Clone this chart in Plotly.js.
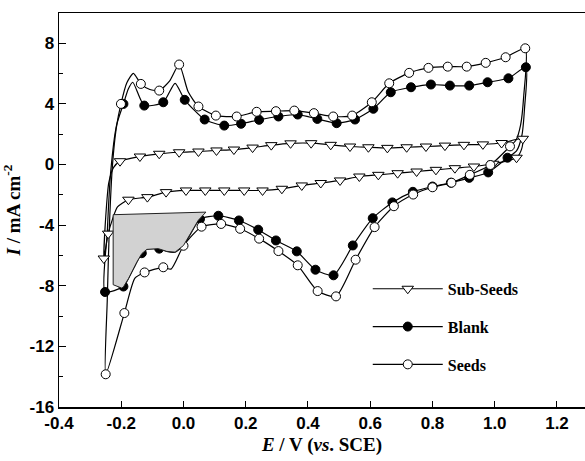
<!DOCTYPE html>
<html><head><meta charset="utf-8">
<script src="https://cdn.plot.ly/plotly-3.0.1.min.js"></script>
<style>html,body{margin:0;padding:0;background:#fff}#chart{width:585px;height:461px}</style>
</head><body><div id="chart"></div>
<script>
// ---- data (E / V vs SCE, I / mA cm^-2, marker flag) ----
const seedsE = [-0.250,-0.245,-0.238,-0.228,-0.216,-0.201,-0.182,-0.161,-0.137,-0.108,-0.078,-0.045,-0.014,0.015,0.048,0.104,0.171,0.235,0.297,0.356,0.419,0.481,0.542,0.605,0.661,0.725,0.787,0.849,0.910,0.971,1.035,1.098,1.093,1.083,1.068,1.049,0.986,0.920,0.861,0.800,0.738,0.676,0.614,0.553,0.490,0.431,0.367,0.305,0.243,0.182,0.121,0.058,0.000,-0.040,-0.065,-0.125,-0.156,-0.190,-0.250];
const seedsI = [-13.84,-9.0,-4.0,0.0,2.4,4.0,5.4,6.02,5.32,4.95,4.88,5.5,6.6,4.8,3.83,3.23,3.17,3.48,3.52,3.56,3.39,3.17,3.23,4.11,5.36,6.05,6.38,6.46,6.46,6.71,7.08,7.67,4.5,2.6,1.6,1.2,-0.03,-0.68,-1.2,-1.5,-1.98,-2.75,-4.13,-6.28,-8.7,-8.35,-6.65,-5.71,-4.89,-4.24,-3.92,-4.1,-5.36,-6.9,-6.78,-7.12,-7.5,-9.8,-13.84];
const seedsMark = [1,0,0,0,0,1,0,0,1,0,1,0,1,0,1,1,1,1,1,1,1,1,1,1,1,1,1,1,1,1,1,1,0,0,0,1,1,1,1,1,1,1,1,1,1,1,1,1,1,1,1,1,1,0,1,1,0,1,0];

const blankE = [-0.252,-0.245,-0.234,-0.215,-0.193,-0.177,-0.163,-0.126,-0.065,-0.027,0.004,0.068,0.131,0.185,0.243,0.305,0.367,0.430,0.492,0.551,0.610,0.666,0.731,0.795,0.856,0.918,0.977,1.044,1.100,1.096,1.087,1.070,1.041,0.979,0.918,0.859,0.800,0.737,0.671,0.608,0.544,0.482,0.424,0.364,0.297,0.240,0.178,0.112,0.053,0.026,0.000,-0.027,-0.054,-0.078,-0.118,-0.134,-0.150,-0.177,-0.193,-0.252];
const blankI = [-8.41,-4.5,-0.5,2.6,4.0,5.0,5.43,3.89,4.11,5.36,4.27,2.97,2.57,2.69,2.95,3.17,3.30,3.01,2.73,2.97,3.68,4.77,5.10,5.28,5.21,5.21,5.43,5.69,6.42,3.8,1.9,0.9,0.45,-0.52,-0.88,-1.2,-1.45,-1.8,-2.5,-3.54,-5.34,-7.31,-6.94,-5.73,-5.01,-4.30,-3.69,-3.38,-3.6,-4.46,-5.34,-5.78,-5.73,-5.55,-5.6,-5.85,-6.44,-7.53,-8.05,-8.41];
const blankMark = [1,0,0,0,1,0,0,1,1,0,1,1,1,1,1,1,1,1,1,1,1,1,1,1,1,1,1,1,1,0,0,0,1,1,1,1,1,1,1,1,1,1,1,1,1,1,1,1,1,0,0,0,0,1,0,1,0,0,1,0];

const subE = [-0.256,-0.250,-0.240,-0.225,-0.204,-0.140,-0.078,-0.014,0.048,0.106,0.162,0.222,0.282,0.344,0.410,0.473,0.535,0.594,0.655,0.717,0.779,0.840,0.901,0.962,1.022,1.090,1.086,1.070,0.995,0.933,0.872,0.811,0.749,0.688,0.626,0.565,0.503,0.441,0.380,0.316,0.254,0.195,0.131,0.070,0.008,-0.056,-0.116,-0.177,-0.212,-0.228,-0.242,-0.256];
const subI = [-6.2,-3.5,-1.2,-0.2,0.22,0.53,0.71,0.81,0.86,0.93,0.99,1.12,1.28,1.40,1.41,1.30,1.19,1.14,1.10,1.14,1.19,1.25,1.30,1.33,1.42,1.70,1.0,0.45,0.05,-0.13,-0.24,-0.35,-0.46,-0.57,-0.68,-0.79,-1.05,-1.22,-1.38,-1.6,-1.71,-1.71,-1.71,-1.71,-1.71,-1.82,-2.15,-2.32,-2.8,-3.6,-4.56,-6.2];
const subMark = [1,0,0,0,1,1,1,1,1,1,1,1,1,1,1,1,1,1,1,1,1,1,1,1,1,1,0,1,1,1,1,1,1,1,1,1,1,1,1,1,1,1,1,1,1,1,1,1,0,0,1,0];

// shaded (grey) region
const shadeE = [-0.226,0.072,0.047,0.026,0.000,-0.027,-0.054,-0.081,-0.118,-0.134,-0.150,-0.177,-0.193,-0.199,-0.226,-0.226];
const shadeI = [-3.31,-3.14,-3.69,-4.46,-5.34,-5.78,-5.73,-5.55,-5.60,-5.88,-6.44,-7.53,-8.08,-8.15,-7.93,-3.31];

const seriesNames = ['Sub-Seeds','Blank','Seeds'];
const xTickVals = [-0.4,-0.2,0.0,0.2,0.4,0.6,0.8,1.0,1.2];
const xTickText = ['-0.4','-0.2','0.0','0.2','0.4','0.6','0.8','1.0','1.2'];
const yTickVals = [-16,-12,-8,-4,0,4,8];
const yTickText = ['-16','-12','-8','-4','0','4','8'];

// ---- build traces ----
const pick = (arr, mark) => arr.filter((_, i) => mark[i]);
const styles = [
  {symbol:'triangle-down', color:'white', size:10},
  {symbol:'circle', color:'black', size:9},
  {symbol:'circle', color:'white', size:9}
];
const sets = [[subE, subI, subMark],[blankE, blankI, blankMark],[seedsE, seedsI, seedsMark]];
const traces = [];
sets.forEach((s, k) => {
  traces.push({x:s[0], y:s[1], mode:'lines', type:'scatter', showlegend:false, hoverinfo:'skip',
    line:{color:'black', width:1.2, shape:'spline', smoothing:0.6}});
});
sets.forEach((s, k) => {
  traces.push({x:pick(s[0], s[2]), y:pick(s[1], s[2]), mode:'markers', type:'scatter', showlegend:false,
    marker:{symbol:styles[k].symbol, color:styles[k].color, size:styles[k].size, line:{color:'black', width:1}}});
});
traces.push({x:shadeE, y:shadeI, mode:'lines', type:'scatter', fill:'toself', fillcolor:'#d2d2d2',
  line:{color:'#222', width:1}, showlegend:false, hoverinfo:'skip'});
sets.forEach((s, k) => {
  traces.push({x:[null], y:[null], mode:'lines+markers', type:'scatter', name:seriesNames[k], legendgroup:'g'+k,
    line:{color:'black', width:1.2},
    marker:{symbol:styles[k].symbol, color:styles[k].color, size:styles[k].size, line:{color:'black', width:1}}});
});

const tickFont = {family:'Liberation Sans, Arial, sans-serif', size:17, weight:'bold', color:'black'};
const titleFont = {family:'Liberation Serif, Times New Roman, serif', size:19, weight:'bold', color:'black'};

const layout = {
  width:585, height:461,
  margin:{l:59, r:0, t:13, b:54},
  paper_bgcolor:'white', plot_bgcolor:'white',
  showlegend:true,
  legend:{x:0.587, y:0.343, xanchor:'left', yanchor:'top', bgcolor:'rgba(0,0,0,0)',
    font:{family:'Liberation Serif, Times New Roman, serif', size:16, weight:'bold', color:'black'},
    itemwidth:70, tracegroupgap:14, traceorder:'grouped'},
  xaxis:{range:[-0.4,1.29], showgrid:false, zeroline:false, showline:true, linecolor:'black', linewidth:1.5,
    mirror:true, ticks:'inside', ticklen:6, tickwidth:1, tickcolor:'black',
    tickmode:'array', tickvals:xTickVals, ticktext:xTickText, tickfont:tickFont,
    title:{text:'<i>E</i> / V (<i>vs</i>. SCE)', font:titleFont, standoff:6}},
  yaxis:{range:[-16,10], showgrid:false, zeroline:false, showline:true, linecolor:'black', linewidth:1.5,
    mirror:false, ticks:'inside', ticklen:7, tickwidth:1, tickcolor:'black',
    tickmode:'array', tickvals:yTickVals, ticktext:yTickText, tickfont:tickFont,
    minor:{dtick:2, tick0:0, ticks:'inside', ticklen:4, tickcolor:'black', showgrid:false},
    title:{text:'<i>I</i> / mA cm<sup>-2</sup>', font:titleFont, standoff:4}}
};
Plotly.newPlot('chart', traces, layout, {displayModeBar:false, staticPlot:true});
</script></body></html>
